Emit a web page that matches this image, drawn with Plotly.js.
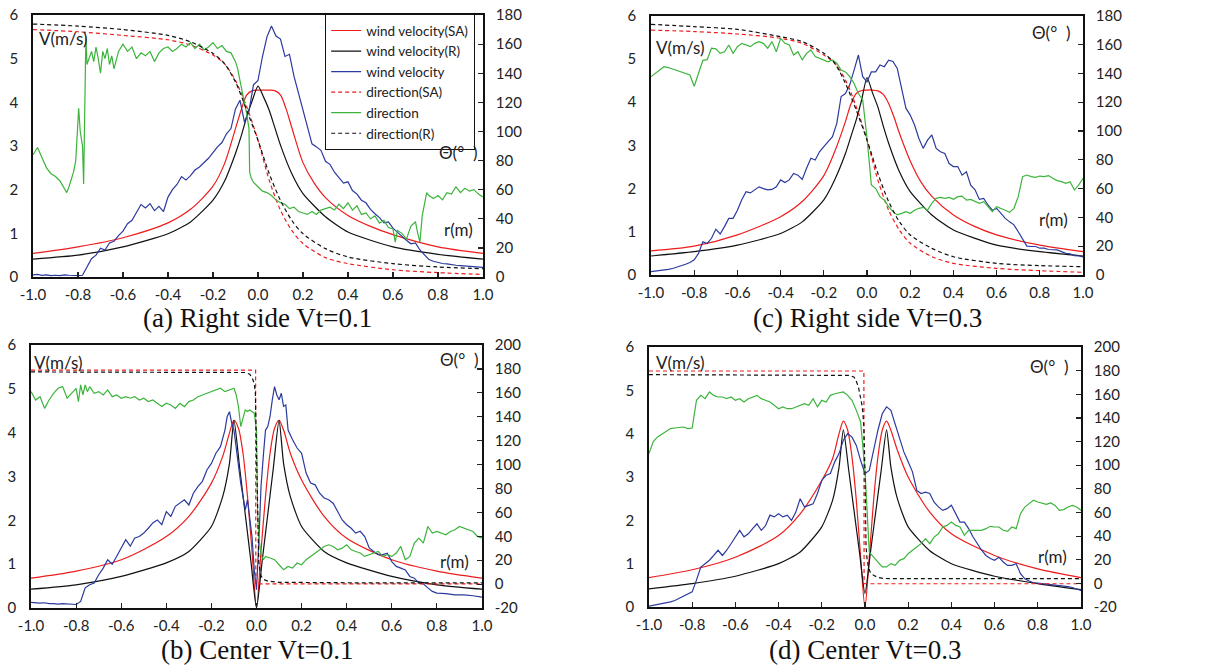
<!DOCTYPE html>
<html><head><meta charset="utf-8">
<script src="https://cdn.plot.ly/plotly-3.0.1.min.js"></script>
<style>html,body{margin:0;padding:0;background:#fff}#chart{width:1218px;height:668px}</style>
</head><body><div id="chart"></div>
<script>
// ---------- tick labels ----------
const xTickVals = [-1.0,-0.8,-0.6,-0.4,-0.2,0.0,0.2,0.4,0.6,0.8,1.0];
const xTickText = ['-1.0','-0.8','-0.6','-0.4','-0.2','0.0','0.2','0.4','0.6','0.8','1.0'];
const vTickVals = [0,1,2,3,4,5,6];
const thTopVals = [0,20,40,60,80,100,120,140,160,180];
const thTopText = ['0','20','40','60','80','100','120','140','160','180'];
const thBotVals = [-20,0,20,40,60,80,100,120,140,160,180,200];
const thBotText = ['-20','0','20','40','60','80','100','120','140','160','180','200'];
const panelTitles = ['(a) Right side Vt=0.1','(c) Right side Vt=0.3','(b) Center Vt=0.1','(d) Center Vt=0.3'];
const seriesNames = ['wind velocity(SA)','wind velocity(R)','wind velocity','direction(SA)','direction','direction(R)'];

// shared measurement grid (r, m)
const rGrid = [-1.00,-0.98,-0.96,-0.94,-0.92,-0.90,-0.88,-0.86,-0.84,-0.82,
 -0.80,-0.78,-0.76,-0.74,-0.72,-0.70,-0.68,-0.66,-0.64,-0.62,
 -0.60,-0.58,-0.56,-0.54,-0.52,-0.50,-0.48,-0.46,-0.44,-0.42,
 -0.40,-0.38,-0.36,-0.34,-0.32,-0.30,-0.28,-0.26,-0.24,-0.22,
 -0.20,-0.18,-0.16,-0.14,-0.12,-0.10,-0.08,-0.06,-0.04,-0.02,
 0.00,0.02,0.04,0.06,0.08,0.10,0.12,0.14,0.16,0.18,
 0.20,0.22,0.24,0.26,0.28,0.30,0.32,0.34,0.36,0.38,
 0.40,0.42,0.44,0.46,0.48,0.50,0.52,0.54,0.56,0.58,
 0.60,0.62,0.64,0.66,0.68,0.70,0.72,0.74,0.76,0.78,
 0.80,0.82,0.84,0.86,0.88,0.90,0.92,0.94,0.96,0.98,1.00];

// ---------- (a) Right side Vt=0.1 ----------
const aSA_x = [-1,-0.8,-0.6,-0.4,-0.3,-0.2,-0.15,-0.1,-0.075,-0.05,-0.025,0,0.025,0.05,0.075,0.1,0.125,0.15,0.2,0.25,0.3,0.4,0.5,0.6,0.8,1];
const aSA_v = [0.54,0.69,0.90,1.24,1.55,2.08,2.58,3.40,3.82,4.17,4.27,4.28,4.28,4.28,4.27,4.17,3.85,3.43,2.62,2.15,1.82,1.41,1.16,0.97,0.69,0.54];
const aR_x = [-1,-0.8,-0.6,-0.4,-0.3,-0.2,-0.15,-0.1,-0.075,-0.05,-0.025,0,0.025,0.05,0.075,0.1,0.15,0.2,0.3,0.4,0.6,0.8,1];
const aR_v = [0.41,0.50,0.69,0.99,1.26,1.76,2.18,2.83,3.22,3.67,4.05,4.37,4.12,3.82,3.42,3.02,2.37,1.91,1.38,1.03,0.69,0.52,0.41];
const aMeas_v = [0.05,0.06,0.04,0.05,0.03,0.04,0.03,0.05,0.04,0.03,
 0.03,0.04,0.22,0.42,0.50,0.66,0.62,0.78,0.82,0.95,
 1.05,1.22,1.30,1.48,1.66,1.58,1.68,1.52,1.62,1.50,
 1.83,2.00,2.12,2.30,2.22,2.32,2.45,2.52,2.62,2.72,
 2.85,2.98,3.08,3.28,3.40,3.85,4.05,3.55,3.80,4.40,
 4.50,5.05,5.50,5.75,5.52,5.45,5.05,5.10,4.60,4.20,
 3.80,3.45,3.05,2.98,2.90,2.65,2.58,2.40,2.28,2.15,
 2.18,1.98,1.90,1.76,1.70,1.55,1.45,1.36,1.24,1.26,
 1.12,1.02,0.92,0.84,0.76,0.78,0.62,0.50,0.40,0.36,
 0.33,0.31,0.30,0.28,0.27,0.26,0.25,0.24,0.24,0.23,0.22];
const aDirModel_x = [-1,-0.8,-0.6,-0.4,-0.3,-0.2,-0.15,-0.1,-0.05,0,0.05,0.1,0.15,0.2,0.3,0.4,0.6,0.8,1];
const aDirSA_th = [170,168.5,166,163,159.4,152.5,146.8,135,117,94,66.5,45.9,32,23,13.3,9.2,5,3,1.8];
const aDirR_th = [173.8,172.4,170,166,161.6,153.6,146.8,134,114.6,94,71,52.7,39,29.8,19.5,13.8,9.2,6.9,5.7];
const aDir_x = [-1.00,-0.98,-0.96,-0.94,-0.92,-0.90,-0.88,-0.86,-0.85,-0.84,-0.82,-0.81,-0.80,-0.797,-0.79,-0.785,-0.78,-0.775,-0.77,-0.765,-0.76,-0.75,-0.74,-0.73,-0.72,-0.71,-0.70,-0.69,-0.68,-0.67,-0.66,-0.65,-0.64,-0.62,-0.60,-0.58,-0.56,-0.54,-0.52,-0.50,-0.48,-0.46,-0.44,-0.42,-0.40,-0.38,-0.36,-0.34,-0.32,-0.30,-0.28,-0.26,-0.24,-0.22,-0.20,-0.18,-0.16,-0.14,-0.12,-0.10,-0.09,-0.08,-0.07,-0.06,-0.05,-0.04,-0.037,-0.03,-0.02,0.00,0.02,0.04,0.06,0.08,0.10,0.12,0.14,0.16,0.18,0.20,0.22,0.24,0.26,0.28,0.30,0.32,0.34,0.36,0.38,0.40,0.42,0.44,0.46,0.48,0.50,0.52,0.54,0.56,0.58,0.60,0.61,0.62,0.64,0.66,0.68,0.70,0.71,0.72,0.73,0.74,0.75,0.76,0.78,0.80,0.82,0.84,0.86,0.88,0.90,0.92,0.94,0.96,0.98,1.00];
const aDir_th = [84,89,82,75,71,69,66,60,58,62,72,80,110,116,100,95,90,64,120,165,146,150,155,148,158,150,140,155,150,157,146,152,143,155,160,155,158,150,154,152,155,148,154,157,158,155,157,160,158,161,157,160,156,158,161,157,159,155,154,148,143,135,128,121,112,102,72,68,65,62,59,58,56,53,51,50,47,48,45,44,43,45,43,46,47,48,46,50,47,51,46,49,43,44,40,42,37,39,34,33,24,32,30,26,35,38,30,24,42,50,58,56,54,56,53,58,57,62,58,61,59,60,57,55];

// ---------- (c) Right side Vt=0.3 ----------
const cSA_x = [-1,-0.8,-0.6,-0.4,-0.3,-0.2,-0.15,-0.1,-0.075,-0.05,-0.025,0,0.025,0.05,0.075,0.1,0.125,0.15,0.2,0.25,0.3,0.4,0.5,0.6,0.8,1];
const cSA_v = [0.56,0.67,0.93,1.35,1.70,2.30,2.85,3.55,3.95,4.20,4.27,4.28,4.28,4.26,4.18,3.97,3.65,3.28,2.64,2.15,1.82,1.39,1.12,0.93,0.69,0.54];
const cR_x = [-1,-0.8,-0.6,-0.4,-0.3,-0.2,-0.15,-0.1,-0.075,-0.05,-0.025,0,0.025,0.05,0.075,0.1,0.15,0.2,0.3,0.4,0.6,0.8,1];
const cR_v = [0.44,0.54,0.69,0.96,1.23,1.74,2.20,2.81,3.20,3.59,4.05,4.57,4.22,3.89,3.45,3.05,2.39,1.93,1.39,1.04,0.69,0.54,0.44];
const cMeas_v = [0.08,0.09,0.10,0.11,0.13,0.15,0.18,0.21,0.25,0.29,
 0.35,0.50,0.77,0.73,0.85,1.06,0.95,1.12,1.31,1.31,
 1.50,1.74,1.93,1.90,1.97,2.04,2.00,1.97,1.98,2.04,
 2.20,2.14,2.20,2.35,2.31,2.21,2.47,2.70,2.66,2.85,
 2.97,3.08,3.20,3.51,4.13,4.20,4.40,4.74,5.09,4.59,
 4.47,4.70,4.70,4.86,4.82,4.97,4.94,4.78,4.28,3.86,
 3.70,3.47,3.16,2.93,3.12,3.24,2.93,2.85,2.81,2.58,
 2.51,2.51,2.31,2.39,2.08,1.97,1.75,1.77,1.62,1.50,
 1.54,1.43,1.31,1.23,1.16,1.00,0.85,0.67,0.66,0.66,
 0.62,0.62,0.59,0.59,0.58,0.54,0.50,0.49,0.45,0.44,0.42];
const cDirModel_x = [-1,-0.8,-0.6,-0.4,-0.3,-0.2,-0.15,-0.1,-0.05,0,0.05,0.1,0.15,0.2,0.3,0.4,0.6,0.8,1];
const cDirSA_th = [170,169,167.3,164.3,160.8,152.7,147,135.4,116.9,93.7,66,45,31.2,22,12.7,8.1,4.6,3,1.9];
const cDirR_th = [174,172.4,170.5,165.4,162,153.9,147,133,114.5,93.7,70.6,51,37,27.8,18.5,12.7,8.1,6.5,5.8];
const cDir_th = [137.7,140,142.5,144.6,144,143,141.5,140.5,139.5,138.8,
 131,140,149,149.5,157.4,157,153.9,155,159.7,153.9,
 158.5,160.8,159.7,158.5,160.8,162,160.8,157.4,162,155,
 164.3,160.8,159.7,152.7,155,149.3,153.9,156.2,151.6,150.4,
 149.3,148,149.3,147,142.3,141,137.7,133,126,121.5,
 95,62.5,60,54.4,52,47.4,44,41.7,42.8,44,
 42.8,45,46.3,47,45,49.7,53.2,53.9,53.2,53.9,
 52.5,54.4,54.8,52,52.5,50.9,49.7,50.9,47.4,44,
 47.4,46.3,45,43.5,46.3,54.4,68.3,69.4,68.3,67.8,
 68.7,68.3,69,67.1,65.5,64.8,63.6,64.8,59,62.5,67.1];

// ---------- (b) Center Vt=0.1 ----------
const bSA_x = [-1,-0.8,-0.6,-0.4,-0.3,-0.2,-0.15,-0.12,-0.1,-0.08,-0.06,-0.04,-0.02,0,0.02,0.04,0.06,0.08,0.1,0.12,0.15,0.2,0.3,0.4,0.6,0.8,1];
const bSA_v = [0.68,0.84,1.10,1.63,2.09,2.85,3.46,3.99,4.28,4.10,3.53,2.55,1.30,0,1.30,2.55,3.53,4.10,4.28,4.06,3.53,2.92,2.09,1.59,1.10,0.84,0.68];
const bR_x = [-1,-0.8,-0.6,-0.4,-0.3,-0.2,-0.15,-0.12,-0.1,-0.075,-0.05,-0.025,0,0.025,0.05,0.075,0.1,0.12,0.15,0.2,0.3,0.4,0.6,0.8,1];
const bR_v = [0.43,0.53,0.72,1.03,1.29,1.86,2.54,3.30,4.28,3.21,2.14,1.07,0,1.07,2.14,3.21,4.28,3.30,2.54,1.86,1.29,1.03,0.72,0.53,0.43];
const bMeas_x = [-1.00,-0.98,-0.96,-0.94,-0.92,-0.90,-0.88,-0.86,-0.84,-0.82,-0.80,-0.78,-0.76,-0.74,-0.72,-0.70,-0.68,-0.66,-0.64,-0.62,-0.60,-0.58,-0.56,-0.54,-0.52,-0.50,-0.48,-0.46,-0.44,-0.42,-0.40,-0.38,-0.36,-0.34,-0.32,-0.30,-0.28,-0.26,-0.24,-0.22,-0.20,-0.18,-0.16,-0.14,-0.13,-0.12,-0.11,-0.10,-0.09,-0.08,-0.07,-0.06,-0.05,-0.04,-0.03,-0.02,-0.01,0.00,0.01,0.02,0.03,0.04,0.05,0.06,0.07,0.08,0.09,0.10,0.11,0.12,0.13,0.14,0.16,0.18,0.20,0.22,0.24,0.26,0.28,0.30,0.32,0.34,0.36,0.38,0.40,0.42,0.44,0.46,0.48,0.50,0.52,0.54,0.56,0.58,0.60,0.62,0.64,0.66,0.68,0.70,0.72,0.74,0.76,0.78,0.80,0.84,0.88,0.92,0.96,1.00];
const bMeas_v = [0.13,0.12,0.11,0.12,0.10,0.10,0.09,0.10,0.09,0.08,0.08,0.15,0.46,0.53,0.57,0.76,0.91,1.10,1.00,1.18,1.37,1.56,1.41,1.60,1.63,1.71,1.82,1.94,2.01,1.90,2.20,2.09,2.32,2.39,2.47,2.35,2.62,2.77,2.89,3.15,3.30,3.53,3.68,4.06,4.37,4.48,4.22,4.06,3.61,3.15,2.85,2.54,2.24,2.47,2.09,1.63,0.87,0.42,1.48,2.77,3.46,4.06,4.14,4.37,4.75,5.05,4.86,4.75,4.90,4.60,4.63,4.06,3.84,3.65,3.53,3.08,2.85,2.81,2.62,2.51,2.47,2.39,2.20,2.01,1.90,1.82,1.71,1.75,1.63,1.37,1.29,1.22,1.22,1.25,1.06,0.95,0.91,0.87,0.72,0.68,0.57,0.55,0.46,0.38,0.34,0.33,0.30,0.30,0.28,0.25];
const bDirSA_x = [-1,-0.004,-0.003,1];
const bDirSA_th = [179,179,0.2,0.2];
const bDirR_x = [-1,-0.1,-0.05,-0.03,-0.02,-0.01,-0.005,0,0.005,0.01,0.02,0.03,0.05,0.1,0.5,1];
const bDirR_th = [177.5,177.5,177,175.5,173,168,160,110,45,18,7,4,2.5,1.5,1,1];
const bDir_x = [-1.00,-0.98,-0.96,-0.94,-0.92,-0.90,-0.88,-0.86,-0.84,-0.82,-0.80,-0.79,-0.78,-0.77,-0.76,-0.75,-0.74,-0.72,-0.70,-0.68,-0.66,-0.64,-0.62,-0.60,-0.58,-0.56,-0.54,-0.52,-0.50,-0.48,-0.46,-0.44,-0.42,-0.40,-0.38,-0.36,-0.34,-0.32,-0.30,-0.28,-0.26,-0.24,-0.22,-0.20,-0.18,-0.16,-0.14,-0.12,-0.10,-0.09,-0.08,-0.07,-0.06,-0.05,-0.04,-0.03,-0.02,-0.01,0.00,0.005,0.01,0.02,0.03,0.04,0.06,0.08,0.10,0.12,0.14,0.16,0.18,0.20,0.22,0.24,0.26,0.28,0.30,0.32,0.34,0.36,0.38,0.40,0.42,0.44,0.46,0.48,0.50,0.52,0.54,0.56,0.58,0.60,0.62,0.64,0.66,0.68,0.70,0.72,0.74,0.76,0.78,0.80,0.82,0.84,0.86,0.88,0.90,0.92,0.94,0.96,0.98,1.00];
const bDir_th = [161,154,156.8,147,154,159.6,163.8,165.2,155.5,159.6,163.8,152.7,166.6,158.2,166.6,161,165.2,159.6,161,158.2,162.4,156.8,158.2,155.5,156.8,155.5,156.8,154,155.5,152.7,154,151.3,148.5,151.3,149.9,147,151.3,148.5,152.7,154,156.8,158.2,159.6,161,162.4,163.8,161,162.4,163.8,158.2,148.5,131.8,140,145.7,144.3,145.7,144.3,143,129,59,39.9,24.6,20.4,23.2,21.8,20.4,16.2,12,14.8,13.4,17.6,16.2,20.4,23.2,26,28.7,31.5,32.9,31.5,28.7,30.1,32.9,28.7,27.3,26,23.2,24.6,26,27.3,23.2,24.6,23.2,26,31.5,20.4,23.2,34.3,38.5,34.3,48.2,42.7,44,42.7,41.3,44,45.4,48.2,46.8,45.4,44,39.9,38.5];

// ---------- (d) Center Vt=0.3 ----------
const dSA_x = [-1,-0.8,-0.6,-0.4,-0.3,-0.2,-0.15,-0.12,-0.1,-0.08,-0.06,-0.04,-0.02,0,0.02,0.04,0.06,0.08,0.1,0.12,0.15,0.2,0.3,0.4,0.6,0.8,1];
const dSA_v = [0.68,0.86,1.15,1.65,2.15,2.92,3.42,4.00,4.29,4.08,3.46,2.46,1.15,0,1.15,2.46,3.46,4.08,4.29,4.08,3.62,3.00,2.19,1.69,1.19,0.88,0.68];
const dR_x = [-1,-0.8,-0.6,-0.4,-0.3,-0.2,-0.15,-0.12,-0.1,-0.075,-0.05,-0.025,0,0.025,0.05,0.075,0.1,0.12,0.15,0.2,0.3,0.4,0.6,0.8,1];
const dR_v = [0.42,0.54,0.71,1.00,1.27,1.85,2.46,3.23,4.09,3.15,2.20,1.25,0.31,1.25,2.20,3.15,4.09,3.23,2.50,1.85,1.30,1.00,0.71,0.54,0.40];
const dMeas_v = [0.02,0.04,0.05,0.07,0.09,0.12,0.15,0.20,0.25,0.30,
 0.35,0.62,0.92,1.00,1.08,1.19,1.31,1.19,1.31,1.46,
 1.62,1.77,1.62,1.69,1.81,1.92,1.77,1.88,2.12,2.08,
 2.15,2.08,2.12,2.00,2.19,2.50,2.31,2.35,2.38,2.62,
 2.92,3.04,3.08,3.35,3.54,3.85,4.00,3.92,3.73,3.38,
 3.08,3.15,3.62,4.08,4.46,4.62,4.54,4.23,3.92,3.58,
 3.35,3.12,2.69,2.62,2.65,2.62,2.42,2.31,2.23,2.27,
 2.35,2.15,1.96,1.96,1.81,1.62,1.46,1.31,1.19,1.12,
 1.08,1.15,1.04,0.96,0.96,1.00,0.77,0.65,0.60,0.56,
 0.55,0.54,0.52,0.51,0.50,0.49,0.48,0.47,0.45,0.42,0.38];
const dDirSA_x = [-1,-0.005,-0.004,1];
const dDirSA_th = [179.7,179.7,-0.3,-0.3];
const dDirR_x = [-1,-0.1,-0.07,-0.05,-0.04,-0.03,-0.02,-0.015,-0.01,-0.005,0,0.005,0.01,0.016,0.025,0.04,0.06,0.085,0.12,1];
const dDirR_th = [176.6,176.6,176,174.5,171,166,158,152,145,132,95,31,20,14,9,6.8,5,4.2,4,4];
const dDir_th = [109.8,120,123.9,126.5,129,131,131.5,132,132.3,131,
 131.5,154.9,159.1,156.3,162,159.1,157.7,157.7,156.3,157.7,
 154.9,156.3,153.5,156.3,157.7,159.1,156.3,154.9,153.5,150.7,
 147.8,149.3,147.8,147.8,149.3,150.7,152.1,150.7,156.3,149.3,
 154.9,153.5,159.1,160.5,161.1,162,159.1,154.9,146.4,136.6,
 95.7,26.5,22.3,18,13.9,13.9,16.7,15.3,19.5,20.9,
 25.1,28,30.8,33.6,37.8,33.6,39.2,42,47.7,49.1,
 51.9,49.1,47.7,40.7,44.9,44.9,45.4,44.9,46.3,48.3,
 47.7,47.7,44.9,44,47.7,46.3,59,64.6,67.5,70.3,
 68.9,68,66.9,68,66,61.8,62.4,64.6,66,64.6,61.8];

// ---------- styling ----------
const RED='#ee1c1c', BLACK='#111111', BLUE='#2b3a9e', GREEN='#3cb43c';
const DASH='4px,3px';
const W=1.2;

const panels = [
  {xa:'x',  ya:'y',  ya2:'y2', sa:[aSA_x,aSA_v], r:[aR_x,aR_v], m:[rGrid,aMeas_v], dsa:[aDirModel_x,aDirSA_th], d:[aDir_x,aDir_th], dr:[aDirModel_x,aDirR_th], drLin:false, legend:true},
  {xa:'x2', ya:'y3', ya2:'y4', sa:[cSA_x,cSA_v], r:[cR_x,cR_v], m:[rGrid,cMeas_v], dsa:[cDirModel_x,cDirSA_th], d:[rGrid,cDir_th], dr:[cDirModel_x,cDirR_th], drLin:false, legend:false},
  {xa:'x3', ya:'y5', ya2:'y6', sa:[bSA_x,bSA_v], r:[bR_x,bR_v], m:[bMeas_x,bMeas_v], dsa:[bDirSA_x,bDirSA_th], d:[bDir_x,bDir_th], dr:[bDirR_x,bDirR_th], drLin:true, legend:false},
  {xa:'x4', ya:'y7', ya2:'y8', sa:[dSA_x,dSA_v], r:[dR_x,dR_v], m:[rGrid,dMeas_v], dsa:[dDirSA_x,dDirSA_th], d:[rGrid,dDir_th], dr:[dDirR_x,dDirR_th], drLin:true, legend:false}
];

const traces=[];
panels.forEach(p=>{
  const sl = p.legend;
  traces.push({x:p.sa[0],y:p.sa[1],xaxis:p.xa,yaxis:p.ya,name:seriesNames[0],showlegend:sl,mode:'lines',line:{color:RED,width:W,shape:'spline',smoothing:0.8}});
  traces.push({x:p.r[0],y:p.r[1],xaxis:p.xa,yaxis:p.ya,name:seriesNames[1],showlegend:sl,mode:'lines',line:{color:BLACK,width:W,shape:'spline',smoothing:0.6}});
  traces.push({x:p.m[0],y:p.m[1],xaxis:p.xa,yaxis:p.ya,name:seriesNames[2],showlegend:sl,mode:'lines',line:{color:BLUE,width:W}});
  traces.push({x:p.dsa[0],y:p.dsa[1],xaxis:p.xa,yaxis:p.ya2,name:seriesNames[3],showlegend:sl,mode:'lines',line:{color:RED,width:W,dash:DASH,shape:p.drLin?'linear':'spline',smoothing:0.8}});
  traces.push({x:p.d[0],y:p.d[1],xaxis:p.xa,yaxis:p.ya2,name:seriesNames[4],showlegend:sl,mode:'lines',line:{color:GREEN,width:W}});
  traces.push({x:p.dr[0],y:p.dr[1],xaxis:p.xa,yaxis:p.ya2,name:seriesNames[5],showlegend:sl,mode:'lines',line:{color:BLACK,width:W,dash:DASH,shape:p.drLin?'linear':'spline',smoothing:0.8}});
});

const FONT='Lato, "Open Sans", sans-serif';
const tickFont={family:FONT,size:15,color:'#222'};
function xAxis(dom,anchor){return {domain:dom,anchor:anchor,range:[-1,1],tickmode:'array',tickvals:xTickVals,ticktext:xTickText,ticks:'inside',ticklen:5,tickcolor:'#222',tickwidth:1.2,showline:true,linecolor:'#111',linewidth:2,mirror:true,showgrid:false,zeroline:false,tickfont:tickFont,ticklabelstandoff:3,fixedrange:true};}
function yLeft(dom,anchor){return {domain:dom,anchor:anchor,range:[0,6],tickmode:'array',tickvals:vTickVals,ticks:'',showline:true,linecolor:'#111',linewidth:1.8,showgrid:false,zeroline:false,tickfont:tickFont,ticklabelstandoff:10};}
function yRight(dom,anchor,over,rng,vals,txt){return {domain:dom,anchor:anchor,overlaying:over,side:'right',range:rng,tickmode:'array',tickvals:vals,ticktext:txt,ticks:'inside',ticklen:5,tickcolor:'#222',tickwidth:1.2,showline:true,linecolor:'#111',linewidth:1.8,showgrid:false,zeroline:false,tickfont:tickFont,ticklabelstandoff:8};}

const dA={x:[0.0271,0.3965],y:[0.5853,0.9775]};
const dC={x:[0.5345,0.8892],y:[0.5883,0.9765]};
const dB={x:[0.0255,0.3957],y:[0.0898,0.4835]};
const dD={x:[0.5328,0.8875],y:[0.0913,0.4805]};

function lab(t,x,y){return {text:t,xref:'paper',yref:'paper',x:x,y:y,xanchor:'left',yanchor:'middle',showarrow:false,font:{family:FONT,size:17,color:'#222'}};}
function ttl(t,x,y){return {text:t,xref:'paper',yref:'paper',x:x,y:y,xanchor:'center',yanchor:'middle',showarrow:false,font:{family:'"Liberation Serif", "Times New Roman", serif',size:27,color:'#111'}};}
const TH='Θ(°\u00a0\u00a0)';
const annotations=[
  lab('V(m/s)',0.0300,0.943), lab(TH,0.3585,0.771), lab('r(m)',0.3630,0.6557),
  lab('V(m/s)',0.5366,0.9296), lab(TH,0.8460,0.9506), lab('r(m)',0.8515,0.6707),
  lab('V(m/s)',0.0260,0.4566), lab(TH,0.3592,0.4611), lab('r(m)',0.3597,0.1587),
  lab('V(m/s)',0.5366,0.4566), lab(TH,0.8444,0.4506), lab('r(m)',0.8507,0.1662),
  ttl(panelTitles[0],0.2118,0.524), ttl(panelTitles[1],0.712,0.524),
  ttl(panelTitles[2],0.2106,0.027), ttl(panelTitles[3],0.7102,0.027)
];

const layout={
  width:1218,height:668,margin:{l:0,r:0,t:0,b:0},paper_bgcolor:'#fff',plot_bgcolor:'rgba(0,0,0,0)',
  showlegend:true,
  legend:{x:0.2668,y:0.979,xanchor:'left',yanchor:'top',bgcolor:'#fff',bordercolor:'#111',borderwidth:1.2,font:{family:FONT,size:13.5,color:'#222'},itemwidth:30,tracegroupgap:0,traceorder:'normal'},
  xaxis:xAxis(dA.x,'y'), yaxis:yLeft(dA.y,'x'), yaxis2:yRight(dA.y,'x','y',[0,180],thTopVals,thTopText),
  xaxis2:xAxis(dC.x,'y3'), yaxis3:yLeft(dC.y,'x2'), yaxis4:yRight(dC.y,'x2','y3',[0,180],thTopVals,thTopText),
  xaxis3:xAxis(dB.x,'y5'), yaxis5:yLeft(dB.y,'x3'), yaxis6:yRight(dB.y,'x3','y5',[-20,200],thBotVals,thBotText),
  xaxis4:xAxis(dD.x,'y7'), yaxis7:yLeft(dD.y,'x4'), yaxis8:yRight(dD.y,'x4','y7',[-20,200],thBotVals,thBotText),
  annotations:annotations
};
Plotly.newPlot('chart',traces,layout,{staticPlot:true,displayModeBar:false});
</script></body></html>
